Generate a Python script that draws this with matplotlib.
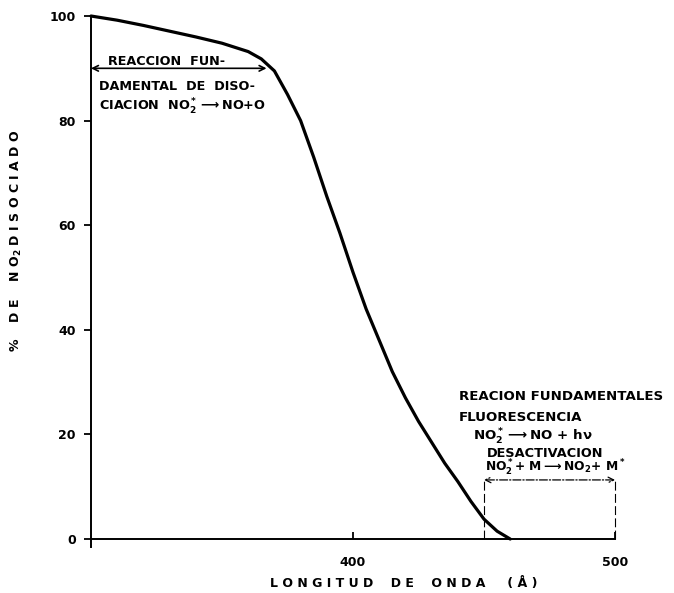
import numpy as np
import matplotlib.pyplot as plt

plt.rcParams['font.family'] = 'DejaVu Sans'
plt.rcParams['font.weight'] = 'bold'
plt.rcParams['mathtext.fontset'] = 'custom'
plt.rcParams['mathtext.rm'] = 'DejaVu Sans:bold'
plt.rcParams['mathtext.it'] = 'DejaVu Sans:bold'
plt.rcParams['mathtext.default'] = 'rm'

# curve
longitud = [300, 310, 320, 330, 340, 350, 360, 365, 370, 375, 380, 385, 390,
            395, 400, 405, 410, 415, 420, 425, 430, 435, 440, 445, 450, 455, 460]
disociado = [100, 99.2, 98.2, 97.1, 96, 94.8, 93.2, 91.8, 89.5, 85, 80, 73,
             65.5, 58.5, 51, 44, 38, 32, 27, 22.5, 18.5, 14.5, 11, 7.2, 3.8, 1.5, 0]

y_ticks = [0, 20, 40, 60, 80, 100]
x_ticks = [400, 500]

# ranges of the two reaction regimes
disoc_rango = (300, 367, 90)
fluor_rango = (450, 500, 11.3)

fig = plt.figure(figsize=(6.74, 5.93), dpi=100)
ax = fig.add_axes([0.135, 0.091, 0.7775, 0.882])

ax.plot(longitud, disociado, color='black', lw=2.3, clip_on=False,
        solid_capstyle='round')

ax.set_xlim(300, 500)
ax.set_ylim(0, 100)
ax.spines['top'].set_visible(False)
ax.spines['right'].set_visible(False)
ax.spines['left'].set_linewidth(1.4)
ax.spines['bottom'].set_linewidth(1.4)
# small stub of the y axis below zero
ax.plot([300, 300], [0, -1.6], color='black', lw=1.4, clip_on=False)

ax.set_yticks(y_ticks)
ax.set_yticklabels([str(v) for v in y_ticks], fontsize=9, fontweight='bold')
ax.tick_params(axis='y', direction='out', length=5, width=1.3, pad=6)
ax.set_xticks(x_ticks)
ax.set_xticklabels([str(v) for v in x_ticks], fontsize=9, fontweight='bold')
ax.tick_params(axis='x', direction='in', length=5, width=1.3, pad=12)

ax.set_xlabel(r'L O N G I T U D    D E    O N D A     ( Å )', fontsize=9,
              fontweight='bold')
ax.xaxis.set_label_coords(0.597, -0.072)
ax.set_ylabel(r'%    D E    N O$_2$ D I S O C I A D O', fontsize=9,
              fontweight='bold')
ax.yaxis.set_label_coords(-0.128, 0.57)

# dissociation regime
x0, x1, yy = disoc_rango
ax.annotate('', xy=(x0, yy), xytext=(x1, yy),
            arrowprops=dict(arrowstyle='<->', lw=1.2, color='black',
                            shrinkA=0, shrinkB=0))
ax.text(306.5, 91.3, 'REACCION  FUN-', fontsize=9.2, fontweight='bold', va='center')
ax.text(303, 86.5, 'DAMENTAL  DE  DISO-', fontsize=9.2, fontweight='bold', va='center')
ax.text(303, 82.6, r'CIACION  NO$_2^*$$\longrightarrow$NO+O', fontsize=9.2,
        fontweight='bold', va='center')

# fluorescence / deactivation regime
f0, f1, fy = fluor_rango
ax.annotate('', xy=(f0, fy), xytext=(f1, fy),
            arrowprops=dict(arrowstyle='<->', lw=0.9, color='black',
                            linestyle='-.', shrinkA=0, shrinkB=0))
ax.plot([f0, f0], [0, fy], color='black', lw=0.8, ls=(0, (8, 3)), clip_on=False)
ax.plot([f1, f1], [0, fy], color='black', lw=0.8, ls=(0, (8, 3)), clip_on=False)

ax.text(440.5, 27.3, 'REACION FUNDAMENTALES', fontsize=9.6, fontweight='bold', va='center')
ax.text(440.5, 23.3, 'FLUORESCENCIA', fontsize=9.6, fontweight='bold', va='center')
ax.text(445.8, 19.6, r'NO$_2^*$$\longrightarrow$NO + h$\nu$', fontsize=9.6,
        fontweight='bold', va='center')
ax.text(451, 16.4, 'DESACTIVACION', fontsize=9.3, fontweight='bold', va='center')
ax.text(450.4, 13.5, r'NO$_2^*$+ M$\longrightarrow$NO$_2$+ M$^*$', fontsize=8.8,
        fontweight='bold', va='center')

fig.savefig('out.png', dpi=100)
